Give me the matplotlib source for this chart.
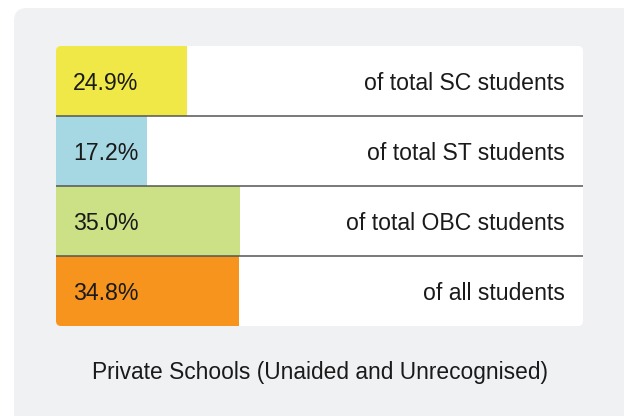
import matplotlib.pyplot as plt
from matplotlib.patches import FancyBboxPatch
from matplotlib.transforms import Affine2D

plt.rcParams['font.family'] = ['Liberation Sans', 'DejaVu Sans']

groups = ['of total SC students', 'of total ST students', 'of total OBC students', 'of all students']
shares = [24.9, 17.2, 35.0, 34.8]
colors = ['#efe846', '#a5d8e2', '#cce085', '#f7941e']
caption = 'Private Schools (Unaided and Unrecognised)'

fig = plt.figure(figsize=(6.24, 4.16), dpi=100)
fig.patch.set_facecolor('white')

# pixel coords from top-left corner
px = Affine2D().scale(1 / 624, -1 / 416).translate(0, 1) + fig.transFigure

panel = FancyBboxPatch((14, 8), 640, 440, boxstyle='round,pad=0,rounding_size=13',
                       transform=px, facecolor='#f0f1f3', edgecolor='none', zorder=0)
fig.add_artist(panel)

ax = fig.add_axes([56 / 624, (416 - 326) / 416, 527 / 624, 280 / 416])
ax.set_xlim(0, 100)
ax.set_ylim(len(groups) - 0.5, -0.5)
ax.axis('off')

box = FancyBboxPatch((56, 46), 527, 280, boxstyle='round,pad=0,rounding_size=5',
                     transform=px, facecolor='white', edgecolor='none', zorder=1)
ax.add_patch(box)

ypos = list(range(len(groups)))
bars = ax.barh(ypos, shares, height=1.0, color=colors, zorder=2)
for b in bars:
    b.set_clip_path(box)

for y in ypos[:-1]:
    ax.axhline(y + 0.5, color='#555555', lw=1.1, zorder=3)

for y, v, g in zip(ypos, shares, groups):
    ax.text(3.2, y + 0.03, f'{v:.1f}%', ha='left', va='center', fontsize=16.7, color='#1a1a1a', zorder=4)
    ax.text(96.6, y + 0.03, g, ha='right', va='center', fontsize=16.6, color='#1a1a1a', zorder=4)

fig.text(320 / 624, 1 - 373 / 416, caption, ha='center', va='center', fontsize=16.4, color='#1a1a1a')

fig.savefig('out.png', dpi=100)
